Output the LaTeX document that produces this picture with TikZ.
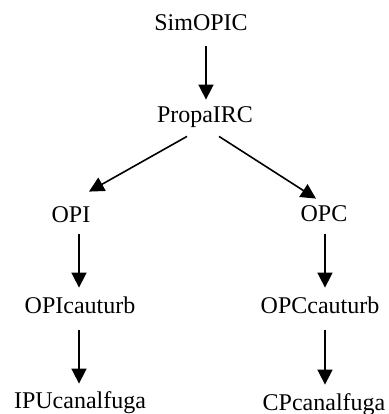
\documentclass[tikz,border=0pt]{standalone}
\usepackage{fontspec}
\setmainfont{Liberation Serif}
\usetikzlibrary{arrows.meta}

\begin{document}
\begin{tikzpicture}[x=0.5pt,y=-0.5pt,
  font=\fontsize{12}{14}\selectfont,
  lbl/.style={anchor=base,inner sep=0pt,text height=8pt,text depth=0pt},
  arr/.style={line width=0.8pt,-{Triangle[length=7.5pt,width=7.5pt]}}]
\useasboundingbox (0,0) rectangle (388,414);
% names of the modules
\node[lbl] (sim)  at (201,30)  {SimOPIC};
\node[lbl] (prop) at (205,122) {PropaIRC};
\node[lbl] (opi)  at (71,222)  {OPI};
\node[lbl] (opc)  at (324,221) {OPC};
\node[lbl] (opic) at (80,313)  {OPIcauturb};
\node[lbl] (opcc) at (320,313) {OPCcauturb};
\node[lbl] (ipu)  at (80,408)  {IPUcanalfuga};
\node[lbl] (cp)   at (324,410) {CPcanalfuga};
% calls
\draw[arr] ([xshift=2.5pt,yshift=-8pt]sim.south) -- ([xshift=0.5pt,yshift=3pt]prop.north);
\draw[arr] ([xshift=-9pt,yshift=-7pt]prop.south) -- ([xshift=9pt,yshift=7pt]opi.north);
\draw[arr] ([xshift=7pt,yshift=-7pt]prop.south) -- ([xshift=-4pt,yshift=3pt]opc.north);
\draw[arr] ([xshift=4pt,yshift=-6pt]opi.south) -- ([xshift=-0.5pt,yshift=4.5pt]opic.north);
\draw[arr] ([xshift=-0.5pt,yshift=-8.5pt]opic.south) -- ([xshift=-0.5pt,yshift=4pt]ipu.north);
\draw[arr] ([xshift=0.5pt,yshift=-6.5pt]opc.south) -- ([xshift=2.5pt,yshift=4.5pt]opcc.north);
\draw[arr] ([xshift=2.5pt,yshift=-8.5pt]opcc.south) -- ([xshift=0.5pt,yshift=4.5pt]cp.north);
\end{tikzpicture}
\end{document}
